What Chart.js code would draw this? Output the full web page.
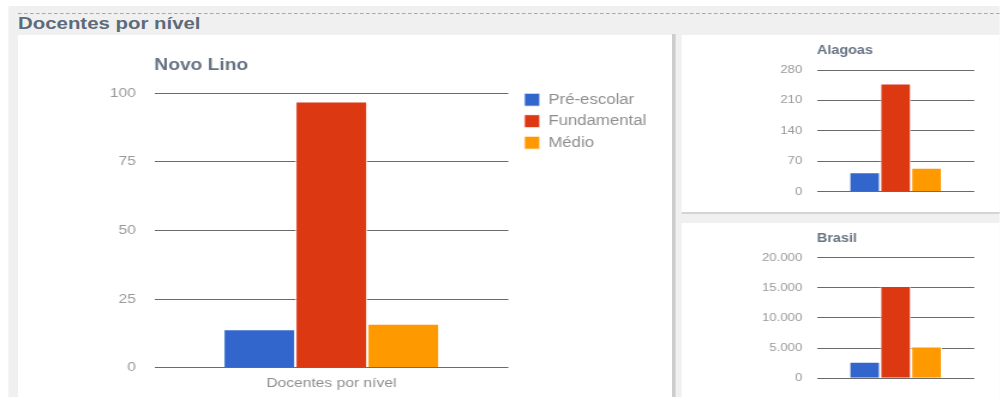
<!DOCTYPE html>
<html lang="pt-BR">
<head>
<meta charset="utf-8">
<title>Docentes por nível</title>
<script src="https://cdn.jsdelivr.net/npm/chart.js@4.4.1/dist/chart.umd.min.js"></script>
<style>
  html, body { margin: 0; padding: 0; background: #fff; overflow: hidden; }
  /* the page is laid out at 833px and stretched to 1000px wide */
  #pagina { position: absolute; left: 0; top: 0; width: 833.33px; height: 397px;
            transform: scaleX(1.2); transform-origin: 0 0;
            font-family: "Liberation Sans", Arial, sans-serif; }
  #fundo { position: absolute; left: 6.67px; top: 6px; right: 0; bottom: 0; background: #f0f0f0; }
  #tracejado { position: absolute; left: 15px; right: 0; top: 13px; border-top: 1px dashed #a8a8a8; }
  #titulo { position: absolute; left: 15px; top: 14px; font-size: 17px; line-height: 20px;
            font-weight: bold; color: #5c6b7a; }
  .painel { position: absolute; background: #fff; }
  .painel canvas { position: absolute; left: 0; top: 0; }
  #divisoria { position: absolute; left: 560px; top: 34px; width: 2.5px; bottom: 0; background: #cdcdcd; }
  #filete { position: absolute; left: 568.3px; right: 0; top: 212px; height: 2px; background: #d4d4d4; }
</style>
</head>
<body>
<div id="pagina">
  <div id="fundo"></div>
  <div id="tracejado"></div>
  <div id="titulo">Docentes por nível</div>
  <div class="painel" style="left:15px; top:35px; width:545px; height:362px;">
    <canvas id="graficoNovoLino" width="545" height="362"></canvas>
  </div>
  <div id="divisoria"></div>
  <div class="painel" style="left:568.3px; top:35px; width:265px; height:177px;">
    <canvas id="graficoAlagoas" width="265" height="177"></canvas>
  </div>
  <div id="filete"></div>
  <div class="painel" style="left:568.3px; top:223px; width:265px; height:174px;">
    <canvas id="graficoBrasil" width="265" height="174"></canvas>
  </div>
</div>

<script>
const categoria = 'Docentes por nível';
const niveis = ['Pré-escolar', 'Fundamental', 'Médio'];
const cores = ['#3366cc', '#dc3912', '#ff9900'];

const novoLino = [14, 97, 16];
const alagoas = [45, 249, 55];
const brasil = [2740, 15290, 5260];

const marcasNovoLino = [0, 25, 50, 75, 100];
const marcasAlagoas = [0, 70, 140, 210, 280];
const marcasBrasil = [0, 5000, 10000, 15000, 20000];

const fonte = "'Liberation Sans', Arial, sans-serif";
Chart.defaults.font.family = fonte;

const LARGURA_LEGENDA = 128;

// 20000 -> 20.000
function milhar(v) {
  return String(v).replace(/\B(?=(\d{3})+(?!\d))/g, '.');
}

// legend gets a fixed width, then sits just right of the plot, level with its top line
const legendaAoLado = {
  id: 'legendaAoLado',
  beforeLayout(chart) {
    const legenda = chart.legend;
    if (legenda && !legenda._larguraFixa) {
      const fitOriginal = legenda.fit.bind(legenda);
      legenda.fit = function () {
        fitOriginal();
        this.width = LARGURA_LEGENDA;
      };
      legenda._larguraFixa = true;
    }
  },
  afterLayout(chart) {
    const area = chart.chartArea;
    chart.legend.left = area.right + 5.8;
    chart.legend.right = chart.legend.left + LARGURA_LEGENDA;
    chart.legend.top = area.top - 8;
  }
};

function montarGrafico(id, titulo, valores, marcas, m) {
  return new Chart(document.getElementById(id), {
    type: 'bar',
    data: {
      labels: [categoria],
      datasets: niveis.map((nivel, i) => ({
        label: nivel,
        data: [valores[i]],
        backgroundColor: cores[i],
        borderColor: 'rgba(255,255,255,0.9)',
        borderWidth: 1,
        borderSkipped: 'bottom',
        categoryPercentage: m.grupo,
        barPercentage: 1
      }))
    },
    options: {
      responsive: false,
      animation: false,
      layout: { padding: { left: 0, right: m.direita, top: 0, bottom: 0 } },
      plugins: {
        title: {
          display: true,
          text: titulo,
          align: 'start',
          fullSize: false,
          color: '#667383',
          font: { size: m.fonteTitulo, weight: 'bold' },
          padding: { top: m.tituloTopo, bottom: m.tituloBase }
        },
        legend: m.legenda ? {
          display: true,
          position: 'right',
          align: 'start',
          labels: {
            boxWidth: 13,
            boxHeight: 13,
            padding: 7.5,
            color: '#8e8e8e',
            font: { size: 14 }
          }
        } : { display: false },
        tooltip: { enabled: false }
      },
      scales: {
        x: {
          grid: { display: false },
          border: { display: false },
          ticks: { display: m.rotuloX, color: '#8e8e8e', font: { size: 13 }, padding: 0 },
          afterFit: (eixo) => { eixo.height = m.alturaX; }
        },
        y: {
          min: 0,
          max: marcas[marcas.length - 1],
          grid: { color: '#6a6a6a', drawTicks: false },
          border: { display: false },
          ticks: {
            stepSize: marcas[1] - marcas[0],
            padding: m.folga,
            color: '#9a9a9a',
            font: { size: m.fonteEixo },
            callback: (v) => milhar(v)
          },
          afterFit: (eixo) => { eixo.width = m.larguraY; }
        }
      }
    },
    plugins: m.legenda ? [legendaAoLado] : []
  });
}

montarGrafico('graficoNovoLino', 'Novo Lino', novoLino, marcasNovoLino, {
  grupo: 0.61, direita: 545 - 408.6 - LARGURA_LEGENDA, larguraY: 113.6, folga: 15.3, alturaX: 29.3,
  tituloTopo: 20.5, tituloBase: 18.5, fonteTitulo: 16, fonteEixo: 13,
  legenda: true, rotuloX: true
});

montarGrafico('graficoAlagoas', 'Alagoas', alagoas, marcasAlagoas, {
  grupo: 0.59, direita: 21.1, larguraY: 112.75, folga: 12.2, alturaX: 20.3,
  tituloTopo: 8.6, tituloBase: 12, fonteTitulo: 12, fonteEixo: 11,
  legenda: false, rotuloX: false
});

montarGrafico('graficoBrasil', 'Brasil', brasil, marcasBrasil, {
  grupo: 0.59, direita: 21.1, larguraY: 112.75, folga: 12.2, alturaX: 17.7,
  tituloTopo: 8.3, tituloBase: 12, fonteTitulo: 12, fonteEixo: 11,
  legenda: false, rotuloX: false
});
</script>
</body>
</html>
